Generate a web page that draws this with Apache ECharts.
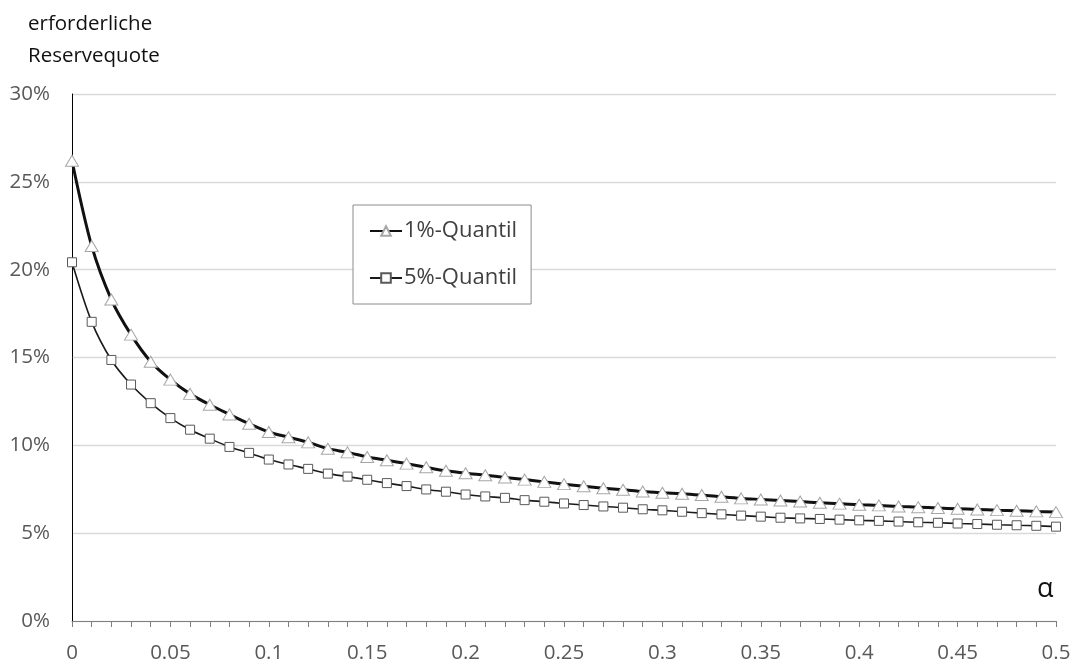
<!DOCTYPE html>
<html>
<head>
<meta charset="utf-8">
<script src="https://cdn.jsdelivr.net/npm/echarts@6/dist/echarts.min.js"></script>
<style>html,body{margin:0;padding:0;background:#fff}#c{width:1076px;height:664px}</style>
</head>
<body>
<div id="c"></div>
<script>
const alphaLabels = ['0','0.01','0.02','0.03','0.04','0.05','0.06','0.07','0.08','0.09',
  '0.1','0.11','0.12','0.13','0.14','0.15','0.16','0.17','0.18','0.19',
  '0.2','0.21','0.22','0.23','0.24','0.25','0.26','0.27','0.28','0.29',
  '0.3','0.31','0.32','0.33','0.34','0.35','0.36','0.37','0.38','0.39',
  '0.4','0.41','0.42','0.43','0.44','0.45','0.46','0.47','0.48','0.49','0.5'];
const quantil1 = [26.2,21.35,18.3,16.3,14.76,13.74,12.93,12.31,11.76,11.23,
  10.76,10.46,10.17,9.81,9.6,9.34,9.15,8.96,8.75,8.55,
  8.41,8.3,8.17,8.05,7.92,7.79,7.67,7.56,7.47,7.37,
  7.3,7.24,7.17,7.07,6.98,6.92,6.86,6.8,6.73,6.68,
  6.62,6.58,6.52,6.48,6.43,6.39,6.35,6.31,6.28,6.24,6.2];
const quantil5 = [20.42,17.03,14.86,13.46,12.4,11.55,10.89,10.38,9.91,9.57,
  9.19,8.91,8.66,8.39,8.22,8.04,7.85,7.68,7.49,7.36,
  7.2,7.09,7.01,6.88,6.79,6.69,6.6,6.52,6.45,6.36,
  6.3,6.22,6.14,6.07,6.0,5.94,5.88,5.84,5.81,5.77,
  5.73,5.7,5.66,5.62,5.59,5.55,5.52,5.48,5.45,5.42,5.37];
const seriesNames = ['1%-Quantil','5%-Quantil'];
const yTitle = 'erforderliche\nReservequote';
const xTitle = 'α';

const chart = echarts.init(document.getElementById('c'), null, {renderer:'canvas'});
const font = '"Open Sans", "DejaVu Sans", sans-serif';
chart.setOption({
  animation: false,
  backgroundColor: '#fff',
  grid: {left: 72, right: 20, top: 94, bottom: 41, containLabel: false},
  graphic: [
    {type:'text', left: 28, top: 8, style:{text: yTitle, font: '20.5px ' + font, fill:'#111', lineHeight: 32, align:'left'}},
    {type:'text', left: 1037, top: 576, style:{text: xTitle, font: '27px ' + font, fill:'#111'}}
  ],
  legend: {
    orient: 'vertical',
    left: 353, top: 205,
    padding: [15, 14, 15, 16],
    itemGap: 25,
    itemWidth: 32, itemHeight: 12,
    borderColor: '#8c8c8c', borderWidth: 1,
    backgroundColor: '#fff',
    textStyle: {fontSize: 22, color: '#404040', fontFamily: font, padding:[0,0,0,-3]},
    data: seriesNames
  },
  xAxis: {
    type: 'category',
    boundaryGap: false,
    data: alphaLabels,
    axisLine: {lineStyle: {color: '#7f7f7f', width: 1}},
    axisTick: {show: true, interval: 0, length: 6, lineStyle: {color: '#7f7f7f'}},
    axisLabel: {interval: 4, margin: 22, fontSize: 20.5, color: '#595959', fontFamily: font},
    splitLine: {show: false}
  },
  yAxis: {
    type: 'value',
    min: 0, max: 30, interval: 5,
    axisLine: {show: true, lineStyle: {color: '#000', width: 1}},
    axisTick: {show: false},
    axisLabel: {formatter: '{value}%', margin: 22, fontSize: 20.5, color: '#595959', fontFamily: font},
    splitLine: {lineStyle: {color: '#d9d9d9', width: 1.3}}
  },
  series: [
    {
      name: seriesNames[0], type: 'line', data: quantil1, smooth: 0.3,
      symbol: 'triangle', symbolSize: [13, 11], showAllSymbol: true,
      lineStyle: {color: '#111', width: 3},
      itemStyle: {color: '#fff', borderColor: '#a6a6a6', borderWidth: 1},
      z: 3
    },
    {
      name: seriesNames[1], type: 'line', data: quantil5, smooth: 0.3,
      symbol: 'rect', symbolSize: 9, showAllSymbol: true,
      lineStyle: {color: '#1a1a1a', width: 1.6},
      itemStyle: {color: '#fff', borderColor: '#595959', borderWidth: 1},
      z: 2
    }
  ]
});
</script>
</body>
</html>
